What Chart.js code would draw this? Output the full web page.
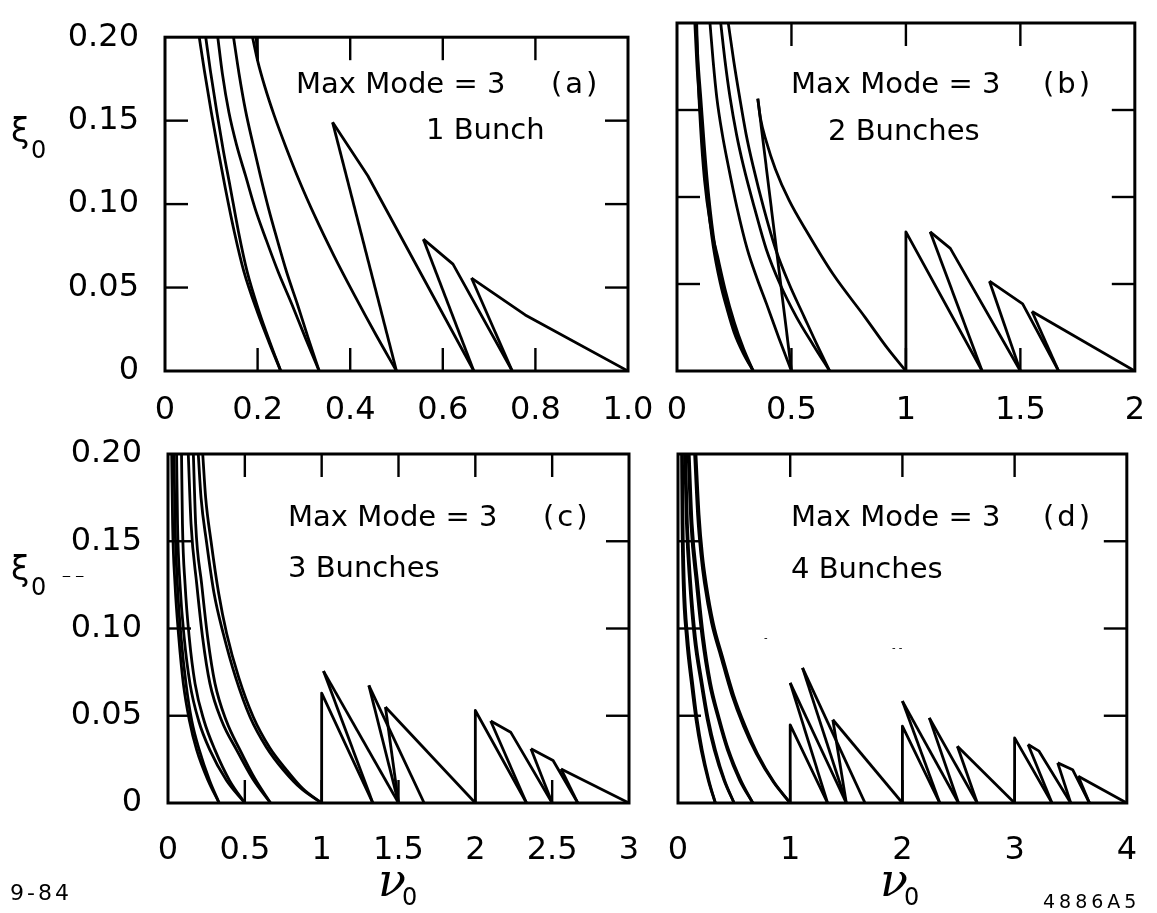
<!DOCTYPE html>
<html>
<head>
<meta charset="utf-8">
<script src="https://cdn.jsdelivr.net/npm/chart.js@4.4.1/dist/chart.umd.min.js"></script>
<style>
html, body { margin: 0; padding: 0; background: #fff; }
#wrap { position: relative; width: 1157px; height: 913px; overflow: hidden; background: #fff; }
canvas { position: absolute; left: 0; top: 0; }
</style>
</head>
<body>
<div id="wrap">
<canvas id="ca" width="1157" height="913"></canvas>
<canvas id="cb" width="1157" height="913"></canvas>
<canvas id="cc" width="1157" height="913"></canvas>
<canvas id="cd" width="1157" height="913"></canvas>
</div>
<script>
// ---------------- tick values and labels ----------------
const yTickValues = [0, 0.05, 0.10, 0.15, 0.20];
const yTickLabels = ['0', '0.05', '0.10', '0.15', '0.20'];
const xTickValuesA = [0, 0.2, 0.4, 0.6, 0.8, 1.0];
const xTickLabelsA = ['0', '0.2', '0.4', '0.6', '0.8', '1.0'];
const xTickValuesB = [0, 0.5, 1, 1.5, 2];
const xTickLabelsB = ['0', '0.5', '1', '1.5', '2'];
const xTickValuesC = [0, 0.5, 1, 1.5, 2, 2.5, 3];
const xTickLabelsC = ['0', '0.5', '1', '1.5', '2', '2.5', '3'];
const xTickValuesD = [0, 1, 2, 3, 4];
const xTickLabelsD = ['0', '1', '2', '3', '4'];

const modeLabel = 'Max Mode = 3';
const panelTags = ['(a)', '(b)', '(c)', '(d)'];
const bunchLabels = ['1 Bunch', '2 Bunches', '3 Bunches', '4 Bunches'];
const yAxisSymbol = 'ξ';
const xAxisSymbol = 'ν';
const axisSubscript = '0';
const figureDate = '9-84';
const figureCode = '4886A5';
const scanMarks = ['‒ ‒', '-', '- -'];

// ---------------- panel (a): 1 bunch  [nu0, xi0] ----------------
const curvesA = [
  [[0.074,0.2],[0.085,0.18],[0.1,0.155],[0.115,0.132],[0.13,0.11],[0.15,0.083],[0.17,0.06],[0.2,0.035],[0.225,0.017],[0.25,0]],
  [[0.088,0.2],[0.098,0.18],[0.112,0.155],[0.126,0.132],[0.141,0.11],[0.159,0.083],[0.177,0.06],[0.204,0.035],[0.227,0.017],[0.25,0]],
  [[0.114,0.2],[0.124,0.178],[0.138,0.155],[0.155,0.135],[0.174,0.117],[0.195,0.097],[0.218,0.079],[0.245,0.059],[0.274,0.04],[0.303,0.02],[0.333,0]],
  [[0.148,0.2],[0.16,0.178],[0.174,0.156],[0.19,0.136],[0.206,0.117],[0.224,0.097],[0.242,0.079],[0.263,0.059],[0.286,0.04],[0.309,0.02],[0.333,0]],
  [[0.189,0.2],[0.2,0.186],[0.216,0.17],[0.236,0.153],[0.26,0.135],[0.29,0.114],[0.325,0.092],[0.365,0.069],[0.41,0.045],[0.455,0.022],[0.5,0]],
  [[0.197,0.2],[0.2,0.186]]
];
const linesA = [
  [[0.362,0.149],[0.5,0]],
  [[0.362,0.149],[0.438,0.117],[0.667,0]],
  [[0.558,0.079],[0.667,0]],
  [[0.558,0.079],[0.622,0.064],[0.75,0]],
  [[0.662,0.0557],[0.75,0]],
  [[0.662,0.0557],[0.778,0.0336],[1.0,0]]
];

// ---------------- panel (b): 2 bunches ----------------
const curvesB = [
  [[0.078,0.2],[0.086,0.178],[0.097,0.157],[0.112,0.13],[0.132,0.1],[0.158,0.072],[0.19,0.05],[0.22,0.035],[0.25,0.022],[0.29,0.01],[0.333,0]],
  [[0.083,0.2],[0.092,0.178],[0.104,0.157],[0.119,0.13],[0.139,0.1],[0.165,0.072],[0.197,0.05],[0.226,0.035],[0.256,0.022],[0.294,0.01],[0.333,0]],
  [[0.086,0.2],[0.092,0.17],[0.103,0.14],[0.12,0.11],[0.145,0.085],[0.177,0.066],[0.21,0.047],[0.25,0.028],[0.29,0.013],[0.333,0]],
  [[0.144,0.2],[0.158,0.178],[0.174,0.157],[0.198,0.136],[0.224,0.118],[0.262,0.094],[0.307,0.07],[0.35,0.053],[0.39,0.039],[0.445,0.019],[0.5,0]],
  [[0.191,0.2],[0.21,0.178],[0.232,0.157],[0.26,0.136],[0.29,0.118],[0.34,0.093],[0.39,0.07],[0.45,0.05],[0.522,0.031],[0.595,0.015],[0.667,0]],
  [[0.224,0.2],[0.248,0.178],[0.274,0.157],[0.302,0.136],[0.332,0.118],[0.38,0.093],[0.431,0.07],[0.49,0.05],[0.556,0.031],[0.612,0.015],[0.667,0]],
  [[0.353,0.1565],[0.365,0.145],[0.39,0.132],[0.43,0.116],[0.49,0.098],[0.572,0.079],[0.68,0.056],[0.821,0.031],[0.92,0.013],[1.0,0]]
];
const linesB = [
  [[0.353,0.1565],[0.5,0]],
  [[1.0,0],[1.0,0.080],[1.333,0]],
  [[1.106,0.080],[1.333,0]],
  [[1.106,0.080],[1.194,0.0705],[1.5,0]],
  [[1.365,0.0516],[1.5,0]],
  [[1.365,0.0516],[1.51,0.0386],[1.667,0]],
  [[1.551,0.0342],[1.667,0]],
  [[1.551,0.0342],[2.0,0]]
];

// ---------------- panel (c): 3 bunches ----------------
const curvesC = [
  [[0.024,0.2],[0.03,0.16],[0.0456,0.1255],[0.07,0.095],[0.0998,0.0684],[0.14,0.047],[0.187,0.0303],[0.26,0.013],[0.333,0]],
  [[0.039,0.2],[0.046,0.16],[0.061,0.1255],[0.085,0.095],[0.117,0.0684],[0.155,0.047],[0.204,0.0303],[0.27,0.013],[0.333,0]],
  [[0.056,0.2],[0.062,0.16],[0.078,0.1255],[0.105,0.095],[0.143,0.0684],[0.2,0.047],[0.273,0.0303],[0.38,0.013],[0.5,0]],
  [[0.088,0.2],[0.094,0.16],[0.111,0.1255],[0.138,0.095],[0.176,0.0684],[0.235,0.047],[0.306,0.0303],[0.4,0.013],[0.5,0]],
  [[0.132,0.2],[0.15,0.16],[0.187,0.1255],[0.225,0.095],[0.273,0.0684],[0.35,0.047],[0.447,0.0303],[0.55,0.014],[0.667,0]],
  [[0.165,0.2],[0.18,0.16],[0.219,0.1255],[0.258,0.095],[0.306,0.0684],[0.38,0.047],[0.469,0.0303],[0.565,0.014],[0.667,0]],
  [[0.197,0.2],[0.215,0.175],[0.25,0.15],[0.3,0.12],[0.36,0.097],[0.44,0.072],[0.534,0.0493],[0.64,0.032],[0.751,0.0189],[0.87,0.008],[1.0,0]],
  [[0.226,0.2],[0.245,0.175],[0.28,0.15],[0.33,0.12],[0.382,0.097],[0.46,0.072],[0.555,0.0493],[0.66,0.032],[0.772,0.0189],[0.88,0.008],[1.0,0]]
];
const linesC = [
  [[1.0,0],[1.0,0.063],[1.333,0]],
  [[1.012,0.0756],[1.333,0]],
  [[1.012,0.0756],[1.5,0]],
  [[1.307,0.0674],[1.5,0]],
  [[1.307,0.0674],[1.667,0]],
  [[1.415,0.055],[1.5,0]],
  [[1.415,0.055],[2.0,0]],
  [[2.0,0],[2.0,0.053],[2.333,0]],
  [[2.1,0.047],[2.333,0]],
  [[2.1,0.047],[2.23,0.0406],[2.5,0]],
  [[2.362,0.0311],[2.5,0]],
  [[2.362,0.0311],[2.506,0.0244],[2.667,0]],
  [[2.558,0.0195],[2.667,0]],
  [[2.558,0.0195],[3.0,0]]
];

// ---------------- panel (d): 4 bunches ----------------
const curvesD = [
  [[0.0315,0.2],[0.036,0.16],[0.046,0.1263],[0.075,0.095],[0.119,0.0688],[0.16,0.048],[0.206,0.0305],[0.27,0.013],[0.333,0]],
  [[0.04,0.2],[0.045,0.16],[0.056,0.1263],[0.086,0.095],[0.13,0.0688],[0.17,0.048],[0.215,0.0305],[0.275,0.013],[0.333,0]],
  [[0.06,0.2],[0.075,0.16],[0.104,0.1263],[0.145,0.095],[0.206,0.0688],[0.26,0.048],[0.323,0.0305],[0.41,0.013],[0.5,0]],
  [[0.068,0.2],[0.084,0.16],[0.113,0.1263],[0.155,0.095],[0.215,0.0688],[0.27,0.048],[0.333,0.0305],[0.415,0.013],[0.5,0]],
  [[0.09,0.2],[0.115,0.16],[0.163,0.1263],[0.215,0.095],[0.279,0.0688],[0.36,0.048],[0.44,0.0305],[0.55,0.013],[0.667,0]],
  [[0.1,0.2],[0.126,0.16],[0.175,0.1263],[0.227,0.095],[0.29,0.0688],[0.37,0.048],[0.45,0.0305],[0.56,0.013],[0.667,0]],
  [[0.148,0.2],[0.175,0.165],[0.205,0.142],[0.235,0.1263],[0.3,0.103],[0.381,0.0841],[0.48,0.062],[0.585,0.0439],[0.7,0.028],[0.85,0.012],[1.0,0]],
  [[0.16,0.2],[0.188,0.165],[0.218,0.142],[0.25,0.1263],[0.315,0.103],[0.395,0.0841],[0.495,0.062],[0.6,0.0439],[0.71,0.028],[0.855,0.012],[1.0,0]]
];
const linesD = [
  [[1.0,0],[1.0,0.0448],[1.333,0]],
  [[1.0,0.0688],[1.333,0]],
  [[1.0,0.0688],[1.5,0]],
  [[1.11,0.0774],[1.5,0]],
  [[1.11,0.0774],[1.667,0]],
  [[1.38,0.0477],[1.5,0]],
  [[1.38,0.0477],[2.0,0]],
  [[2.0,0],[2.0,0.044],[2.333,0]],
  [[2.0,0.0584],[2.333,0]],
  [[2.0,0.0584],[2.5,0]],
  [[2.24,0.0488],[2.5,0]],
  [[2.24,0.0488],[2.667,0]],
  [[2.49,0.0325],[2.667,0]],
  [[2.49,0.0325],[3.0,0]],
  [[3.0,0],[3.0,0.0373],[3.333,0]],
  [[3.12,0.0335],[3.333,0]],
  [[3.12,0.0335],[3.218,0.0297],[3.5,0]],
  [[3.384,0.023],[3.5,0]],
  [[3.384,0.023],[3.517,0.0191],[3.667,0]],
  [[3.567,0.0153],[3.667,0]],
  [[3.567,0.0153],[4.0,0]]
];

// ---------------- layout / drawing ----------------
const W = 1157, H = 913;
const YW = 120, XH = 70, TICK = 23;
const FONT = 'DejaVu Sans';
const ANNO = '29px "DejaVu Sans"';
const XI_FONT = '33px "DejaVu Sans"';
const SUB_FONT = '24px "DejaVu Sans"';
const NU_FONT = 'italic 46px "DejaVu Serif"';

const panels = [
  { id: 'ca', rect: { l: 165, t: 23, r: 628, b: 371 }, xMax: 1, xv: xTickValuesA, xl: xTickLabelsA, curves: curvesA, lines: linesA, showY: true, xPad: 12,
    texts: [
      { t: modeLabel, x: 296, y: 93, f: ANNO },
      { t: panelTags[0], x: 551, y: 93, f: ANNO, ls: 3 },
      { t: bunchLabels[0], x: 426, y: 139, f: ANNO },
      { t: yAxisSymbol, x: 11, y: 142, f: XI_FONT },
      { t: axisSubscript, x: 31, y: 158, f: SUB_FONT }
    ] },
  { id: 'cb', rect: { l: 677, t: 23, r: 1135, b: 371 }, xMax: 2, xv: xTickValuesB, xl: xTickLabelsB, curves: curvesB, lines: linesB, showY: false, xPad: 12,
    texts: [
      { t: modeLabel, x: 791, y: 93, f: ANNO },
      { t: panelTags[1], x: 1043, y: 93, f: ANNO, ls: 3 },
      { t: bunchLabels[1], x: 828, y: 140, f: ANNO }
    ] },
  { id: 'cc', rect: { l: 168, t: 454, r: 629, b: 803 }, xMax: 3, xv: xTickValuesC, xl: xTickLabelsC, curves: curvesC, lines: linesC, showY: true, xPad: 20,
    texts: [
      { t: modeLabel, x: 288, y: 526, f: ANNO },
      { t: panelTags[2], x: 543, y: 526, f: ANNO, ls: 3 },
      { t: bunchLabels[2], x: 288, y: 577, f: ANNO },
      { t: yAxisSymbol, x: 11, y: 580, f: XI_FONT },
      { t: axisSubscript, x: 31, y: 595, f: SUB_FONT },
      { t: scanMarks[0], x: 62, y: 580, f: '14px "DejaVu Sans"' },
      { t: xAxisSymbol, x: 378, y: 896, f: NU_FONT },
      { t: axisSubscript, x: 402, y: 905, f: SUB_FONT },
      { t: figureDate, x: 10, y: 900, f: '22px "DejaVu Sans"', ls: 3 }
    ] },
  { id: 'cd', rect: { l: 678, t: 454, r: 1135, b: 803 }, xMax: 4, xv: xTickValuesD, xl: xTickLabelsD, curves: curvesD, lines: linesD, showY: false, xPad: 20,
    texts: [
      { t: modeLabel, x: 791, y: 526, f: ANNO },
      { t: panelTags[3], x: 1043, y: 526, f: ANNO, ls: 3 },
      { t: bunchLabels[3], x: 791, y: 578, f: ANNO },
      { t: scanMarks[1], x: 764, y: 641, f: '10px "DejaVu Sans"' },
      { t: scanMarks[2], x: 892, y: 651, f: '10px "DejaVu Sans"' },
      { t: xAxisSymbol, x: 880, y: 896, f: NU_FONT },
      { t: axisSubscript, x: 904, y: 905, f: SUB_FONT },
      { t: figureCode, x: 1043, y: 908, f: '19px "DejaVu Sans"', ls: 4 }
    ] }
];

function toPts(arr) { return arr.map(p => ({ x: p[0], y: p[1] })); }

function framePlugin(p) {
  return {
    id: 'frame_' + p.id,
    afterDraw(chart) {
      const ctx = chart.ctx, a = chart.chartArea;
      const xs = chart.scales.x, ys = chart.scales.y;
      ctx.save();
      ctx.strokeStyle = '#000';
      ctx.lineCap = 'butt';
      ctx.lineWidth = 2.4;
      const seg = (x1, y1, x2, y2) => { ctx.beginPath(); ctx.moveTo(x1, y1); ctx.lineTo(x2, y2); ctx.stroke(); };
      p.xv.slice(1, -1).forEach(v => {
        const x = xs.getPixelForValue(v);
        seg(x, a.bottom, x, a.bottom - TICK);
        seg(x, a.top, x, a.top + TICK);
      });
      yTickValues.slice(1, -1).forEach(v => {
        const y = ys.getPixelForValue(v);
        seg(a.left, y, a.left + TICK, y);
        seg(a.right, y, a.right - TICK, y);
      });
      ctx.lineWidth = 3;
      ctx.strokeRect(a.left, a.top, a.right - a.left, a.bottom - a.top);
      ctx.fillStyle = '#000';
      ctx.textAlign = 'left';
      ctx.textBaseline = 'alphabetic';
      p.texts.forEach(t => {
        ctx.font = t.f;
        try { ctx.letterSpacing = (t.ls || 0) + 'px'; } catch (e) {}
        ctx.fillText(t.t, t.x, t.y);
      });
      try { ctx.letterSpacing = '0px'; } catch (e) {}
      ctx.restore();
    }
  };
}

function makeChart(p) {
  const datasets = [];
  p.curves.forEach(c => datasets.push({
    data: toPts(c), showLine: true, borderColor: '#000', borderWidth: 2.8,
    pointRadius: 0, fill: false, cubicInterpolationMode: 'monotone'
  }));
  p.lines.forEach(c => datasets.push({
    data: toPts(c), showLine: true, borderColor: '#000', borderWidth: 2.8,
    pointRadius: 0, fill: false, tension: 0, borderJoinStyle: 'round'
  }));
  const tickFont = { family: FONT, size: 32, weight: 'normal' };
  return new Chart(document.getElementById(p.id), {
    type: 'scatter',
    data: { datasets },
    options: {
      responsive: false,
      animation: false,
      events: [],
      layout: { padding: { left: p.rect.l - YW, top: p.rect.t, right: W - p.rect.r, bottom: H - p.rect.b - XH } },
      plugins: { legend: { display: false }, tooltip: { enabled: false } },
      scales: {
        x: {
          type: 'linear', min: 0, max: p.xMax,
          afterBuildTicks: s => { s.ticks = p.xv.map(v => ({ value: v })); },
          afterFit: s => { s.height = XH; },
          grid: { display: false }, border: { display: false },
          ticks: { autoSkip: false, maxRotation: 0, minRotation: 0, padding: p.xPad, color: '#000', font: tickFont,
                   callback: (v, i) => p.xl[i] }
        },
        y: {
          type: 'linear', min: 0, max: 0.2,
          afterBuildTicks: s => { s.ticks = yTickValues.map(v => ({ value: v })); },
          afterFit: s => { s.width = YW; },
          grid: { display: false }, border: { display: false },
          ticks: { display: p.showY, padding: 18, color: '#000', font: tickFont,
                   callback: (v, i) => yTickLabels[i] }
        }
      }
    },
    plugins: [framePlugin(p)]
  });
}

panels.forEach(makeChart);
</script>
</body>
</html>
